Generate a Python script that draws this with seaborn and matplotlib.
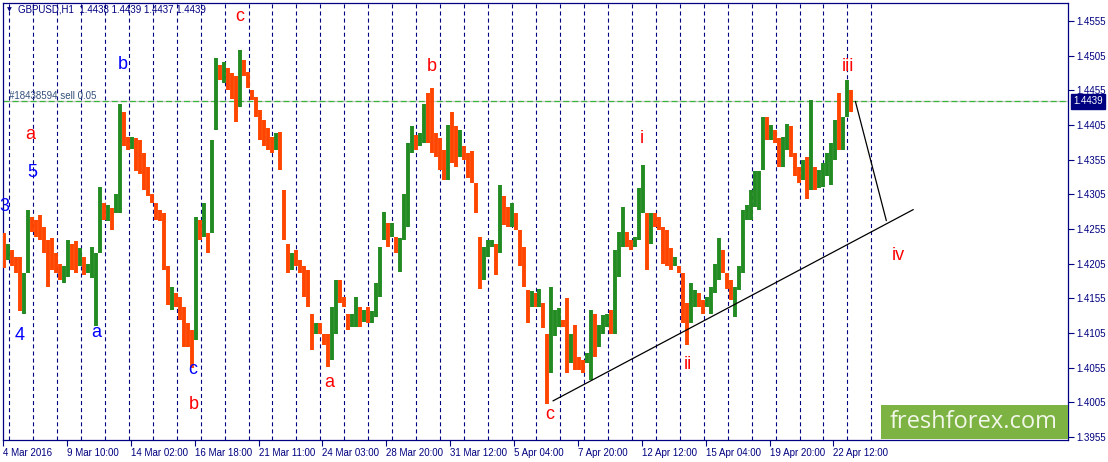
import numpy as np
import pandas as pd
import matplotlib
matplotlib.use("Agg")
import matplotlib.pyplot as plt
import matplotlib.transforms as mtransforms
from matplotlib.patches import Rectangle
import seaborn as sns

# ---------------- data (GBPUSD H1, grouped by 4 hourly bars) ----------------
group_highs = [
    1.4249, 1.4234, 1.4225, 1.4215, 1.4215, 1.4191, 1.4282, 1.4273, 1.4268, 1.4275,
    1.4258, 1.4239, 1.4242, 1.4220, 1.4205, 1.4201, 1.4239, 1.4234, 1.4237, 1.4227,
    1.4215, 1.4205, 1.4229, 1.4220, 1.4316, 1.4292, 1.4290, 1.4285, 1.4306, 1.4436,
    1.4424, 1.4388, 1.4387, 1.4386, 1.4383, 1.4364, 1.4345, 1.4306, 1.4292, 1.4282,
    1.4278, 1.4201, 1.4172, 1.4162, 1.4157, 1.4143, 1.4119, 1.4109, 1.4273, 1.4268,
    1.4292, 1.4249, 1.4383, 1.4501, 1.4492, 1.4496, 1.4487, 1.4480, 1.4475, 1.4513,
    1.4499, 1.4482, 1.4455, 1.4446, 1.4427, 1.4412, 1.4400, 1.4388, 1.4393, 1.4395,
    1.4311, 1.4234, 1.4220, 1.4225, 1.4210, 1.4201, 1.4196, 1.4133, 1.4119, 1.4119,
    1.4104, 1.4104, 1.4143, 1.4181, 1.4181, 1.4157, 1.4133, 1.4133, 1.4157, 1.4143,
    1.4138, 1.4143, 1.4136, 1.4177, 1.4229, 1.4280, 1.4263, 1.4263, 1.4244, 1.4242,
    1.4306, 1.4379, 1.4403, 1.4391, 1.4393, 1.4436, 1.4451, 1.4458, 1.4393, 1.4386,
    1.4369, 1.4405, 1.4424, 1.4403, 1.4398, 1.4374, 1.4364, 1.4367, 1.4321, 1.4244,
    1.4229, 1.4239, 1.4239, 1.4234, 1.4319, 1.4302, 1.4287, 1.4292, 1.4278, 1.4254,
    1.4229, 1.4167, 1.4165, 1.4162, 1.4169, 1.4148, 1.4104, 1.4172, 1.4138, 1.4141,
    1.4124, 1.4155, 1.4104, 1.4117, 1.4071, 1.4066, 1.4076, 1.4138, 1.4133, 1.4117,
    1.4131, 1.4133, 1.4138, 1.4225, 1.4251, 1.4287, 1.4251, 1.4239, 1.4244, 1.4314,
    1.4347, 1.4278, 1.4278, 1.4278, 1.4273, 1.4258, 1.4254, 1.4227, 1.4215, 1.4201,
    1.4191, 1.4148, 1.4177, 1.4167, 1.4162, 1.4153, 1.4157, 1.4172, 1.4205, 1.4242,
    1.4225, 1.4191, 1.4181, 1.4172, 1.4201, 1.4282, 1.4290, 1.4311, 1.4338, 1.4338,
    1.4417, 1.4417, 1.4405, 1.4398, 1.4386, 1.4388, 1.4407, 1.4403, 1.4364, 1.4345,
    1.4355, 1.4359, 1.4441, 1.4345, 1.4340, 1.4350, 1.4364, 1.4379, 1.4412, 1.4451,
    1.4417, 1.4470, 1.4455,
]
group_lows = [
    1.4198, 1.4210, 1.4201, 1.4191, 1.4136, 1.4132, 1.4191, 1.4251, 1.4244, 1.4239,
    1.4220, 1.4172, 1.4196, 1.4191, 1.4181, 1.4177, 1.4186, 1.4196, 1.4191, 1.4201,
    1.4189, 1.4191, 1.4184, 1.4115, 1.4220, 1.4268, 1.4266, 1.4254, 1.4278, 1.4278,
    1.4374, 1.4369, 1.4371, 1.4338, 1.4335, 1.4311, 1.4302, 1.4292, 1.4268, 1.4266,
    1.4196, 1.4145, 1.4138, 1.4143, 1.4124, 1.4085, 1.4085, 1.4054, 1.4095, 1.4239,
    1.4244, 1.4220, 1.4249, 1.4398, 1.4470, 1.4465, 1.4455, 1.4443, 1.4410, 1.4431,
    1.4475, 1.4458, 1.4441, 1.4417, 1.4383, 1.4374, 1.4369, 1.4364, 1.4369, 1.4340,
    1.4239, 1.4191, 1.4196, 1.4201, 1.4191, 1.4157, 1.4143, 1.4080, 1.4104, 1.4104,
    1.4088, 1.4056, 1.4066, 1.4104, 1.4148, 1.4143, 1.4109, 1.4114, 1.4114, 1.4114,
    1.4121, 1.4119, 1.4119, 1.4128, 1.4157, 1.4239, 1.4229, 1.4244, 1.4220, 1.4193,
    1.4239, 1.4258, 1.4364, 1.4369, 1.4374, 1.4379, 1.4379, 1.4364, 1.4359, 1.4340,
    1.4326, 1.4326, 1.4350, 1.4345, 1.4359, 1.4355, 1.4328, 1.4321, 1.4278, 1.4169,
    1.4181, 1.4215, 1.4229, 1.4189, 1.4220, 1.4261, 1.4258, 1.4258, 1.4254, 1.4201,
    1.4172, 1.4119, 1.4143, 1.4143, 1.4143, 1.4112, 1.4003, 1.4047, 1.4100, 1.4114,
    1.4114, 1.4047, 1.4061, 1.4052, 1.4052, 1.4047, 1.4061, 1.4037, 1.4071, 1.4085,
    1.4104, 1.4114, 1.4104, 1.4104, 1.4186, 1.4229, 1.4229, 1.4225, 1.4229, 1.4239,
    1.4278, 1.4196, 1.4234, 1.4258, 1.4254, 1.4205, 1.4201, 1.4196, 1.4201, 1.4191,
    1.4119, 1.4088, 1.4119, 1.4143, 1.4143, 1.4133, 1.4143, 1.4133, 1.4162, 1.4181,
    1.4191, 1.4169, 1.4153, 1.4128, 1.4167, 1.4191, 1.4268, 1.4268, 1.4287, 1.4282,
    1.4340, 1.4383, 1.4383, 1.4379, 1.4345, 1.4345, 1.4369, 1.4359, 1.4331, 1.4321,
    1.4326, 1.4298, 1.4311, 1.4311, 1.4314, 1.4316, 1.4331, 1.4319, 1.4355, 1.4369,
    1.4369, 1.4417, 1.4424,
]
group_closes = [
    1.4215, 1.4220, 1.4208, 1.4200, 1.4145, 1.4170, 1.4265, 1.4258, 1.4250, 1.4245,
    1.4228, 1.4215, 1.4205, 1.4200, 1.4190, 1.4195, 1.4215, 1.4210, 1.4205, 1.4212,
    1.4198, 1.4200, 1.4200, 1.4210, 1.4290, 1.4275, 1.4280, 1.4265, 1.4295, 1.4420,
    1.4380, 1.4378, 1.4383, 1.4355, 1.4350, 1.4320, 1.4305, 1.4298, 1.4275, 1.4272,
    1.4200, 1.4150, 1.4160, 1.4150, 1.4130, 1.4100, 1.4095, 1.4080, 1.4255, 1.4250,
    1.4260, 1.4230, 1.4370, 1.4480, 1.4475, 1.4478, 1.4460, 1.4450, 1.4445, 1.4495,
    1.4480, 1.4460, 1.4445, 1.4420, 1.4395, 1.4385, 1.4375, 1.4370, 1.4385, 1.4345,
    1.4250, 1.4210, 1.4215, 1.4205, 1.4195, 1.4170, 1.4150, 1.4110, 1.4112, 1.4108,
    1.4095, 1.4070, 1.4130, 1.4170, 1.4155, 1.4145, 1.4120, 1.4125, 1.4130, 1.4120,
    1.4130, 1.4125, 1.4130, 1.4170, 1.4220, 1.4250, 1.4240, 1.4250, 1.4230, 1.4235,
    1.4280, 1.4370, 1.4385, 1.4380, 1.4385, 1.4420, 1.4400, 1.4390, 1.4375, 1.4350,
    1.4340, 1.4395, 1.4370, 1.4365, 1.4370, 1.4365, 1.4340, 1.4330, 1.4285, 1.4190,
    1.4220, 1.4230, 1.4232, 1.4220, 1.4290, 1.4275, 1.4265, 1.4270, 1.4260, 1.4210,
    1.4180, 1.4140, 1.4155, 1.4150, 1.4155, 1.4115, 1.4040, 1.4120, 1.4125, 1.4130,
    1.4118, 1.4070, 1.4080, 1.4065, 1.4060, 1.4055, 1.4070, 1.4120, 1.4090, 1.4110,
    1.4120, 1.4125, 1.4120, 1.4200, 1.4240, 1.4245, 1.4235, 1.4230, 1.4240, 1.4300,
    1.4300, 1.4230, 1.4270, 1.4265, 1.4260, 1.4220, 1.4215, 1.4200, 1.4205, 1.4195,
    1.4130, 1.4110, 1.4150, 1.4155, 1.4150, 1.4140, 1.4150, 1.4165, 1.4195, 1.4200,
    1.4195, 1.4175, 1.4160, 1.4165, 1.4195, 1.4275, 1.4275, 1.4300, 1.4320, 1.4335,
    1.4400, 1.4390, 1.4395, 1.4385, 1.4360, 1.4380, 1.4385, 1.4365, 1.4335, 1.4330,
    1.4340, 1.4320, 1.4330, 1.4320, 1.4325, 1.4340, 1.4355, 1.4370, 1.4400, 1.4390,
    1.4410, 1.4440, 1.4439,
]
first_open = 1.4230
bars_per_group = 4

tick_bars = [0, 64, 128, 192, 256, 320, 384, 448, 512, 576, 640, 704, 768, 832]
tick_labels = ["4 Mar 2016", "9 Mar 10:00", "14 Mar 02:00", "16 Mar 18:00",
               "21 Mar 11:00", "24 Mar 03:00", "28 Mar 20:00", "31 Mar 12:00",
               "5 Apr 04:00", "7 Apr 20:00", "12 Apr 12:00", "15 Apr 04:00",
               "19 Apr 20:00", "22 Apr 12:00"]
price_ticks = [1.3955, 1.4005, 1.4055, 1.4105, 1.4155, 1.4205, 1.4255,
               1.4305, 1.4355, 1.4405, 1.4455, 1.4505, 1.4555]
day_line_bars = list(range(6, 871, 24))

order_price = 1.4439
order_text = "#18438594 sell 0.05"
header_text = "GBPUSD,H1  1.4438 1.4439 1.4437 1.4439"

trend_bars = [551, 912]
trend_prices = [1.4007, 1.4283]
proj_bars = [854, 885]
proj_prices = [1.4439, 1.4267]

wave_texts = ["c", "b", "b", "iii", "a", "i", "5", "3", "iv", "4", "a", "a", "ii", "c", "b", "c"]
wave_bars = [237, 120, 430, 847, 27, 640, 29, 1, 897, 17, 93, 327, 686, 190, 191, 548]
wave_prices = [1.4562, 1.4492, 1.4489, 1.4489, 1.4391, 1.4386, 1.4336, 1.4287,
               1.4217, 1.4102, 1.4105, 1.4033, 1.4059, 1.4052, 1.4002, 1.3987]
wave_colors = ["#ff0000", "#0000ff", "#ff0000", "#ff0000", "#ff0000", "#ff0000",
               "#0000ff", "#0000ff", "#ff0000", "#0000ff", "#0000ff", "#ff0000",
               "#ff0000", "#0000ff", "#ff0000", "#ff0000"]

# ---------------- build table ----------------
n = len(group_highs)
df = pd.DataFrame({
    "bar": np.arange(n) * bars_per_group + (bars_per_group - 1) / 2.0,
    "high": group_highs,
    "low": group_lows,
    "close": group_closes,
})
df["open"] = [first_open] + group_closes[:-1]
UP = "#228b22"
DOWN = "#ff4500"
df["color"] = np.where(df["close"] >= df["open"], UP, DOWN)

# ---------------- style ----------------
sns.set_theme(style="white")
plt.rcParams["font.family"] = ["Liberation Sans", "DejaVu Sans"]
plt.rcParams["lines.scale_dashes"] = False
NAVY = "#000080"

W, H = 1108, 462
fig = plt.figure(figsize=(W / 100, H / 100), dpi=100, facecolor="white")
ax = fig.add_axes([3 / W, 22 / H, 1065 / W, 437 / H])
ax.set_facecolor("white")
ax.set_xlim(0, 1067)
ax.set_ylim(1.39506, 1.4581)

# day separators
ax.vlines(day_line_bars, 1.39506, 1.4581, colors=NAVY, linewidth=0.8,
          linestyles=[(0, (2.9, 2.2))], zorder=1)

# order / bid line
ax.axhline(order_price, color="#c8c8c8", linewidth=0.9, zorder=2)
ax.axhline(order_price, color="#3cb43c", linewidth=0.9, linestyle=(0, (4.3, 2.2)), zorder=2)

# candles (high-low segments)
ax.vlines(df["bar"], df["low"], df["high"], colors=df["color"], linewidth=2.8, zorder=3)

# trend line and projection
sns.lineplot(x=trend_bars, y=trend_prices, ax=ax, color="black", linewidth=0.9, zorder=4)
sns.lineplot(x=proj_bars, y=proj_prices, ax=ax, color="black", linewidth=0.9, zorder=4)

# wave labels
for t, b, p, c in zip(wave_texts, wave_bars, wave_prices, wave_colors):
    ax.text(b, p, t, color=c, fontsize=13, ha="center", va="center", zorder=5,
            family=["Liberation Sans", "DejaVu Sans"])

# axes frame
for s in ax.spines.values():
    s.set_color(NAVY)
    s.set_linewidth(0.9)
    s.set_visible(True)

ax.set_xticks(tick_bars, labels=tick_labels)
for lbl in ax.get_xticklabels():
    lbl.set_ha("left")
ax.yaxis.tick_right()
ax.set_yticks(price_ticks, labels=[f"{p:.4f}" for p in price_ticks])
ax.tick_params(axis="x", direction="out", length=4, width=0.8, color=NAVY,
               labelcolor=NAVY, labelsize=7, pad=1.5, bottom=True)
ax.tick_params(axis="y", direction="out", length=4, width=0.8, color=NAVY,
               labelcolor=NAVY, labelsize=7, pad=2, right=True, left=False)
ax.grid(False)
ax.set_xlabel("")
ax.set_ylabel("")

# current price label on the right axis
trans = mtransforms.blended_transform_factory(ax.transAxes, ax.transData)
ax.text(1.0 + 5 / 1065, order_price, f"{order_price:.4f}", transform=trans,
        ha="left", va="center", color="white", fontsize=7, zorder=6, clip_on=False,
        bbox=dict(boxstyle="square,pad=0.25", facecolor=NAVY, edgecolor=NAVY))

# order label
ax.text(6, order_price, order_text, ha="left", va="bottom", color="#34507a",
        fontsize=7, zorder=5)

# header
fig.text(7 / W, 1 - 10 / H, "\u25bc", fontsize=4.5, color=NAVY, ha="left", va="center",
         family=["DejaVu Sans"])
fig.text(18 / W, 1 - 10 / H, header_text, fontsize=7, color=NAVY, ha="left", va="center")

# logo
fig.add_artist(Rectangle((881 / W, 1 - 439 / H), (1068 - 881) / W, 34 / H,
                         transform=fig.transFigure, facecolor="#7cb342",
                         edgecolor="none", zorder=10))
fig.text(974 / W, 1 - 422 / H, "freshforex.com", fontsize=17, color="#f2f7ea",
         ha="center", va="center", family=["Open Sans", "DejaVu Sans"], zorder=11)

fig.savefig("out.png", dpi=100, facecolor="white")
